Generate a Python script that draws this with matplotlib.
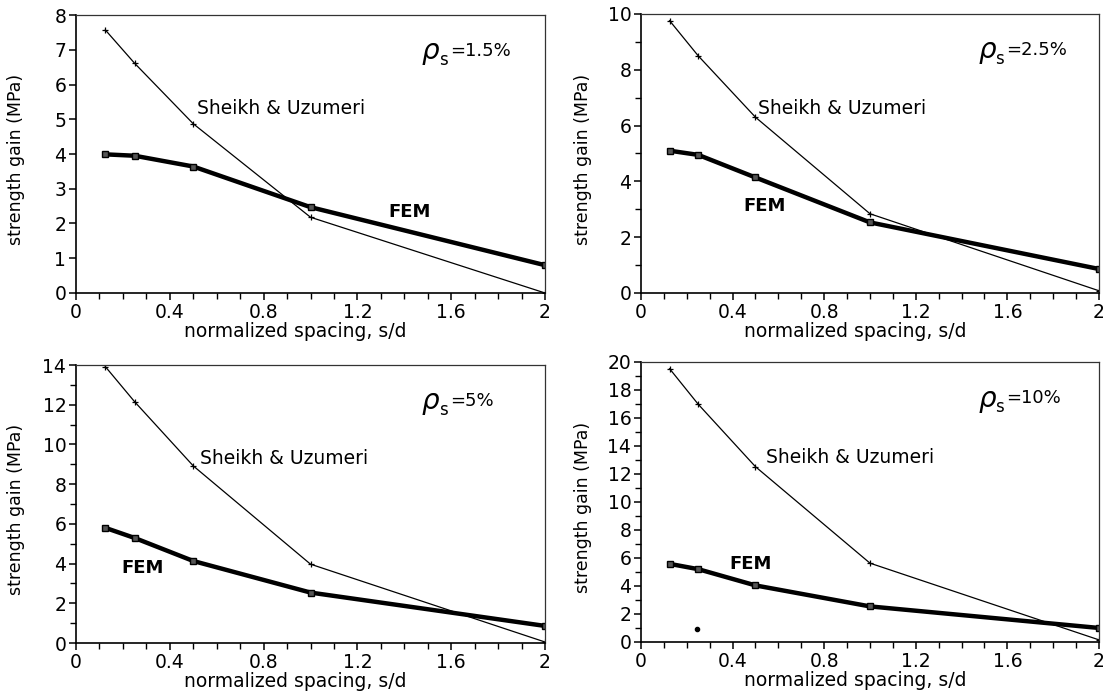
import matplotlib
matplotlib.use("Agg")
import matplotlib.pyplot as plt
from matplotlib.ticker import MultipleLocator

# normalized tie spacing s/d
spacing = [0.125, 0.25, 0.5, 1.0, 2.0]

# strength gain (MPa) for each volumetric ratio of steel
ratios = ["1.5%", "2.5%", "5%", "10%"]
sheikh_15 = [7.57, 6.61, 4.87, 2.18, 0.0]
fem_15 = [3.99, 3.95, 3.64, 2.47, 0.80]
sheikh_25 = [9.76, 8.50, 6.30, 2.84, 0.08]
fem_25 = [5.10, 4.95, 4.14, 2.53, 0.86]
sheikh_5 = [13.92, 12.15, 8.92, 3.97, 0.05]
fem_5 = [5.80, 5.29, 4.13, 2.54, 0.86]
sheikh_10 = [19.52, 16.98, 12.52, 5.63, 0.15]
fem_10 = [5.58, 5.20, 4.04, 2.54, 1.00]
speck_10 = ([0.245], [0.95])

ymax = [8, 10, 14, 20]
ymajor = [1, 2, 2, 2]
yminor = [1, 1, 1, 1]
sheikh_xy = [(0.515, 5.3), (0.51, 6.6), (0.53, 9.3), (0.545, 13.2)]
fem_xy = [(1.33, 2.33), (0.447, 3.1), (0.195, 3.8), (0.385, 5.55)]

fig = plt.figure(figsize=(11.13, 6.92), dpi=100)
rects = [
    [0.0683, 0.5766, 0.4214, 0.4017],
    [0.5759, 0.5766, 0.4115, 0.4032],
    [0.0683, 0.0708, 0.4214, 0.4017],
    [0.5759, 0.0723, 0.4115, 0.4046],
]
sheikh_all = [sheikh_15, sheikh_25, sheikh_5, sheikh_10]
fem_all = [fem_15, fem_25, fem_5, fem_10]

for i in range(4):
    ax = fig.add_axes(rects[i])
    ax.plot(spacing, sheikh_all[i], color="black", lw=0.9,
            marker="+", ms=4.5, mew=0.9)
    ax.plot(spacing, fem_all[i], color="black", lw=3.2,
            marker="s", ms=4, mfc="#555555", mec="black", mew=1.0,
            solid_joinstyle="round")
    if i == 3:
        ax.plot(speck_10[0], speck_10[1], "o", color="black", ms=3)

    ax.set_xlim(0, 2)
    ax.set_ylim(0, ymax[i])
    ax.xaxis.set_major_locator(MultipleLocator(0.4))
    ax.xaxis.set_minor_locator(MultipleLocator(0.1))
    ax.yaxis.set_major_locator(MultipleLocator(ymajor[i]))
    ax.yaxis.set_minor_locator(MultipleLocator(yminor[i]))
    ax.xaxis.set_major_formatter(plt.FuncFormatter(lambda v, p: f"{v:g}"))
    ax.tick_params(which="major", direction="out", length=5, width=1.1,
                   labelsize=13.5, pad=2, top=False, right=False)
    ax.tick_params(which="minor", direction="out", length=4, width=1.0,
                   top=False, right=False)
    for side in ["left", "bottom"]:
        ax.spines[side].set_linewidth(1.2)
    for side in ["top", "right"]:
        ax.spines[side].set_linewidth(0.9)
        ax.spines[side].set_color("#333333")

    ax.set_xlabel("normalized spacing, s/d", fontsize=13.5)
    ax.xaxis.set_label_coords(0.467, -0.105)
    ax.set_ylabel("strength gain (MPa)", fontsize=12.5)
    ax.yaxis.set_label_coords(-0.108, 0.48)

    ax.text(sheikh_xy[i][0], sheikh_xy[i][1], "Sheikh & Uzumeri",
            fontsize=13.5, va="center", ha="left")
    ax.text(fem_xy[i][0], fem_xy[i][1], "FEM", fontsize=13,
            fontweight="bold", va="center", ha="left")
    ax.text(0.735, 0.862, r"$\rho$", transform=ax.transAxes,
            fontsize=20, va="center", ha="left")
    ax.text(0.773, 0.838, "s", transform=ax.transAxes,
            fontsize=12, va="center", ha="left")
    ax.text(0.797, 0.872, "=" + ratios[i], transform=ax.transAxes,
            fontsize=13, va="center", ha="left")

fig.savefig("out.png", dpi=100, facecolor="white")
